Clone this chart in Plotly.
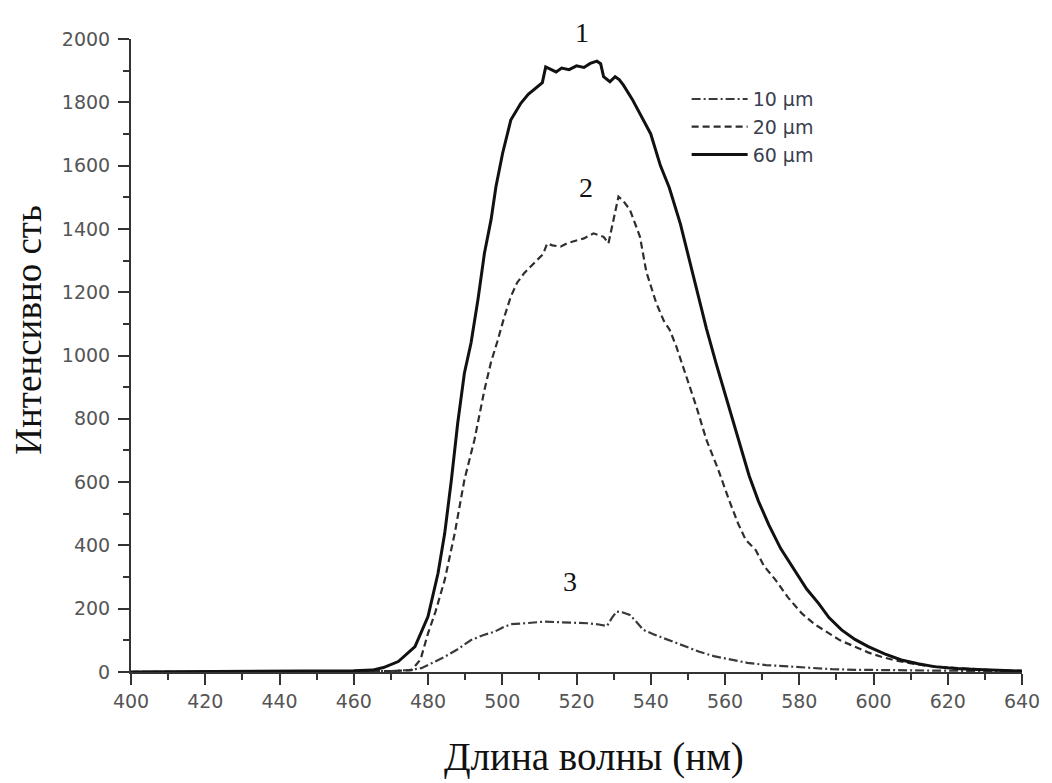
import plotly.graph_objects as go

# Emission spectra for three layer thicknesses
wl_10 = [400, 440, 460, 470, 475, 478.2, 481, 484.5, 488, 491.6, 495, 497.9, 500, 502.3, 505, 508,
         511.2, 514, 517, 520.1, 523, 526, 528.2, 529.5, 530.8, 532.5, 534.4, 536, 538, 541, 544.2,
         548, 553.1, 557, 562, 566, 571, 575, 579.8, 584, 588.8, 595, 605, 620, 640]
int_10 = [0, 1, 2, 3, 6, 12, 28, 48, 72, 101, 117, 127, 140, 151, 153, 157,
          159, 158, 157, 156, 154, 150, 145, 170, 191, 188, 180, 160, 133, 118, 104,
          86, 64, 50, 38, 29, 22, 19, 17, 12, 9, 7, 5, 4, 3]

wl_20 = [400, 440, 460, 470, 475.6, 478, 480, 482, 484.5, 487.2, 489.8, 492.5, 495.2, 497, 498.7,
         500.5, 502.3, 504, 505.9, 507.5, 509.4, 511, 512.1, 513.5, 515.7, 517.5, 520.1, 522, 524.6,
         526, 527.3, 528.6, 530, 531.3, 532.5, 534.4, 536, 537.1, 538.8, 541.5, 543.5, 545.1, 546.9,
         548.7, 550.5, 552.3, 555, 558, 561.1, 563.5, 565.6, 568.3, 570.5, 573.6, 577, 580.7, 584,
         587.9, 591, 595, 598.5, 602.1, 606, 610.2, 614, 619, 625, 632, 640]
int_20 = [0, 1, 2, 3, 6, 40, 122, 190, 291, 438, 607, 733, 891, 980, 1045,
          1120, 1186, 1230, 1260, 1280, 1302, 1320, 1354, 1348, 1344, 1355, 1365, 1370, 1386,
          1380, 1375, 1354, 1428, 1502, 1490, 1460, 1410, 1375, 1265, 1165, 1110, 1081, 1028,
          965, 900, 838, 733, 645, 543, 470, 417, 385, 335, 291, 235, 185, 152,
          122, 100, 80, 62, 48, 36, 27, 20, 15, 10, 6, 3]

wl_60 = [400, 420, 440, 450, 460, 465, 468, 472, 476.5, 480, 482.7, 484.5, 486.3, 488, 489.8, 491.6,
         493.5, 495.2, 497, 498.3, 500.1, 502.3, 505, 507, 509.4, 510.8, 511.7, 513, 514.5, 516, 518,
         520, 522, 523.7, 525.5, 526.5, 527.3, 529, 530.4, 531.5, 532.6, 535, 538, 540, 542.6, 545,
         548, 550, 552.3, 555, 557.6, 560, 562, 564, 566.5, 569, 571.8, 575, 579, 582, 585.2, 588,
         591.4, 595, 598.6, 603, 607.5, 612, 616.4, 622, 628, 634, 640]
int_60 = [0, 1, 2, 3, 4, 6, 14, 33, 80, 175, 312, 438, 607, 786, 944, 1040,
          1180, 1323, 1430, 1533, 1639, 1744, 1797, 1825, 1849, 1862, 1912, 1905, 1896, 1908, 1903,
          1915, 1910, 1923, 1930, 1922, 1881, 1865, 1881, 1872, 1855, 1810, 1744, 1700, 1600, 1530,
          1415, 1320, 1207, 1085, 975, 880, 800, 715, 620, 540, 465, 390, 315, 262, 217, 172,
          133, 103, 80, 57, 38, 26, 17, 11, 8, 5, 3]

x_ticks = list(range(400, 641, 20))
y_ticks = list(range(0, 2001, 200))

serif = "Liberation Serif, Times New Roman, serif"
sans = "DejaVu Sans, Arial, sans-serif"

fig = go.Figure()
fig.add_trace(go.Scatter(x=wl_10, y=int_10, mode="lines", name="10 µm",
                         line=dict(color="#3a3a3a", width=2.2, dash="9px,3px,2px,3px")))
fig.add_trace(go.Scatter(x=wl_20, y=int_20, mode="lines", name="20 µm",
                         line=dict(color="#2e2e2e", width=2.2, dash="7px,4px")))
fig.add_trace(go.Scatter(x=wl_60, y=int_60, mode="lines", name="60 µm",
                         line=dict(color="#111111", width=3)))

# Curve numbers
fig.add_annotation(x=521.5, yref="paper", y=1.011, yanchor="middle", xanchor="center",
                   text="1", showarrow=False, font=dict(family=serif, size=28, color="#111"))
for label, xv, yv in [("2", 522.6, 1531), ("3", 518.3, 285)]:
    fig.add_annotation(x=xv, y=yv, text=label, showarrow=False,
                       font=dict(family=serif, size=28, color="#111"))

# Axis titles
fig.add_annotation(xref="paper", yref="paper", x=-0.115, y=0.54, xanchor="center",
                   yanchor="middle", text="Интенсивно сть", textangle=-90, showarrow=False,
                   font=dict(family=serif, size=37, color="#111"))
fig.add_annotation(xref="paper", yref="paper", x=0.52, y=-0.134, xanchor="center",
                   yanchor="middle", text="Длина волны (нм)", showarrow=False,
                   font=dict(family=serif, size=39, color="#111"))

axis_common = dict(showgrid=False, zeroline=False, showline=True, linecolor="#333",
                   linewidth=2, ticks="outside", tickcolor="#333", tickwidth=2, ticklen=11,
                   tickfont=dict(family=sans, size=19, color="#555"))

fig.update_xaxes(range=[400, 640], tickvals=x_ticks, ticktext=[str(v) for v in x_ticks],
                 minor=dict(dtick=10, ticks="outside", ticklen=6, tickwidth=2, tickcolor="#333"),
                 **axis_common)
fig.update_yaxes(range=[0, 2000], tickvals=y_ticks, ticktext=[str(v) for v in y_ticks],
                 minor=dict(dtick=100, ticks="outside", ticklen=6, tickwidth=2, tickcolor="#333"),
                 ticklabelstandoff=4, **axis_common)

fig.update_layout(
    width=1052, height=783,
    margin=dict(l=131, r=24, t=39, b=111),
    paper_bgcolor="white", plot_bgcolor="white",
    showlegend=True,
    legend=dict(x=0.6236, y=0.935, xanchor="left", yanchor="top", bgcolor="rgba(0,0,0,0)",
                font=dict(family=sans, size=19, color="#3a3f50"), itemwidth=56,
                tracegroupgap=0),
)

fig.write_html("out.html")
